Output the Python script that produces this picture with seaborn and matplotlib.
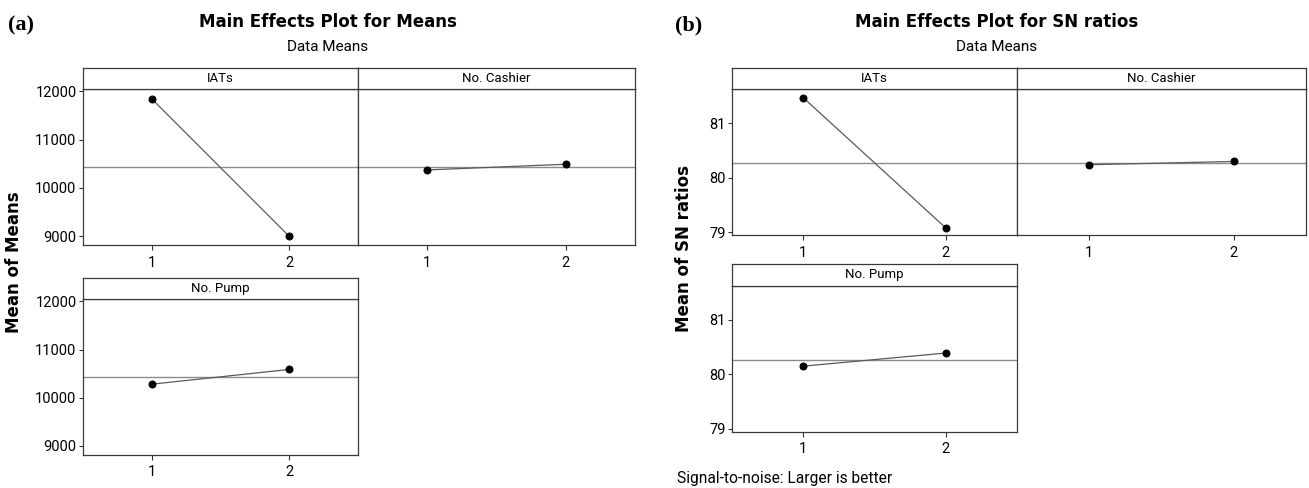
import numpy as np
import pandas as pd
import seaborn as sns
import matplotlib
matplotlib.use("Agg")
import matplotlib.pyplot as plt
from matplotlib import font_manager as fm

# ---------------- data ----------------
levels = [1, 2]
factors = ["IATs", "No. Cashier", "No. Pump"]

means_iats = [11846, 8993]
means_cashier = [10372, 10490]
means_pump = [10278, 10585]
grand_mean_means = 10427

sn_iats = [81.47, 79.08]
sn_cashier = [80.24, 80.30]
sn_pump = [80.15, 80.39]
grand_mean_sn = 80.27

yticks_means = [9000, 10000, 11000, 12000]
yticks_sn = [79, 80, 81]
xtick_labels = ["1", "2"]

# ---------------- style ----------------
sns.set_style("white")
names = {f.name for f in fm.fontManager.ttflist}
if "Liberation Sans Narrow" in names:
    NARROW = "Liberation Sans Narrow"
    TICK_FS, STRIP_FS, SUB_FS, NOTE_FS = 12, 11, 12.5, 13
else:
    NARROW = "Roboto"
    TICK_FS, STRIP_FS, SUB_FS, NOTE_FS = 10.5, 9.5, 11, 11.2
plt.rcParams["font.family"] = [NARROW, "DejaVu Sans"]
plt.rcParams["text.color"] = "black"
plt.rcParams["xtick.color"] = "#333333"
plt.rcParams["ytick.color"] = "#333333"
plt.rcParams["xtick.labelcolor"] = "black"
plt.rcParams["ytick.labelcolor"] = "black"

W, H = 1309, 488
fig = plt.figure(figsize=(W / 100, H / 100), dpi=100)

LINE_C = "#5a5a5a"
MEAN_C = "#8c8c8c"
BOX_C = "#3a3a3a"


def rect(x0, y0, x1, y1):
    return [x0 / W, 1 - y1 / H, (x1 - x0) / W, (y1 - y0) / H]


def panel(x0, x1, ystrip, y0, y1, name, values, ylim, yticks, gmean, show_y):
    ax = fig.add_axes(rect(x0, y0, x1, y1))
    df = pd.DataFrame({"level": levels, "value": values})
    sns.lineplot(data=df, x="level", y="value", ax=ax, color=LINE_C, lw=0.9,
                 marker="o", markersize=5, markerfacecolor="black",
                 markeredgecolor="black", zorder=3)
    ax.axhline(gmean, color=MEAN_C, lw=1.0, zorder=1)
    ax.set_xlim(0.5, 2.5)
    ax.set_ylim(*ylim)
    ax.set_xticks(levels)
    ax.set_xticklabels(xtick_labels)
    ax.set_xlabel("")
    ax.set_ylabel("")
    ax.tick_params(axis="x", direction="out", length=3.8, width=0.8,
                   labelsize=TICK_FS, pad=4, bottom=True)
    if show_y:
        ax.set_yticks(yticks)
        ax.tick_params(axis="y", direction="out", length=3.2, width=0.8,
                       labelsize=TICK_FS, pad=1.5, left=True)
    else:
        ax.set_yticks([])
    for s in ax.spines.values():
        s.set_color(BOX_C)
        s.set_linewidth(0.9)
    # strip
    sx = fig.add_axes(rect(x0, ystrip, x1, y0))
    sx.set_xticks([])
    sx.set_yticks([])
    for s in sx.spines.values():
        s.set_color(BOX_C)
        s.set_linewidth(0.9)
    sx.text(0.5, 0.5, name, ha="center", va="center", fontsize=STRIP_FS,
            color="black", transform=sx.transAxes)
    return ax


# ---------------- (a) Means ----------------
ylim_a = (8814, 12062)
panel(83, 358, 68, 88.5, 245, factors[0], means_iats, ylim_a, yticks_means, grand_mean_means, True)
panel(358, 635, 68, 88.5, 245, factors[1], means_cashier, ylim_a, yticks_means, grand_mean_means, False)
panel(83, 358, 278, 298.5, 454.5, factors[2], means_pump, ylim_a, yticks_means, grand_mean_means, True)

# ---------------- (b) SN ratios ----------------
ylim_b = (78.95, 81.63)
panel(732, 1017, 68, 89, 235, factors[0], sn_iats, ylim_b, yticks_sn, grand_mean_sn, True)
panel(1017, 1306, 68, 89, 235, factors[1], sn_cashier, ylim_b, yticks_sn, grand_mean_sn, False)
panel(732, 1017, 264, 285.5, 431.5, factors[2], sn_pump, ylim_b, yticks_sn, grand_mean_sn, True)

# ---------------- texts ----------------
def ftxt(x, y, s, **kw):
    fig.text(x / W, 1 - y / H, s, color="black", **kw)

ftxt(21, 25, "(a)", fontsize=16, fontweight="bold", family="Liberation Serif",
     ha="center", va="center")
ftxt(689, 25, "(b)", fontsize=16, fontweight="bold", family="Liberation Serif",
     ha="center", va="center")
ftxt(328, 22, "Main Effects Plot for Means", fontsize=12, fontweight="bold",
     family="DejaVu Sans", ha="center", va="center")
ftxt(997, 22, "Main Effects Plot for SN ratios", fontsize=12, fontweight="bold",
     family="DejaVu Sans", ha="center", va="center")
ftxt(328, 47, "Data Means", fontsize=SUB_FS, ha="center", va="center")
ftxt(997, 47, "Data Means", fontsize=SUB_FS, ha="center", va="center")
ftxt(14, 262, "Mean of Means", fontsize=12, fontweight="bold", family="DejaVu Sans",
     rotation=90, ha="center", va="center")
ftxt(684, 249, "Mean of SN ratios", fontsize=12, fontweight="bold", family="DejaVu Sans",
     rotation=90, ha="center", va="center")
ftxt(677, 479, "Signal-to-noise: Larger is better", fontsize=NOTE_FS,
     ha="left", va="center")

fig.savefig("out.png", dpi=100)
